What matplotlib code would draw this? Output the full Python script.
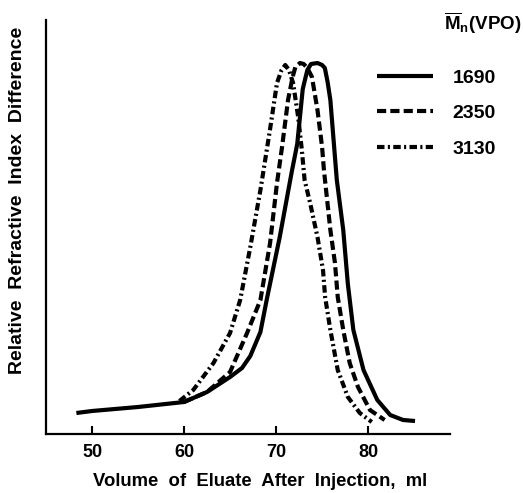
import matplotlib
matplotlib.use("Agg")
import matplotlib.pyplot as plt

plt.rcParams["font.family"] = ["Liberation Sans", "DejaVu Sans"]
plt.rcParams["mathtext.fontset"] = "custom"
plt.rcParams["mathtext.bf"] = "Liberation Sans:bold"
plt.rcParams["mathtext.rm"] = "Liberation Sans"

# --- data (arbitrary detector units) ---
vol_1690 = [48.3, 50, 55, 60, 62.5, 65, 66.3, 67.2, 68.3, 69.0, 70.4, 71.7, 72.3, 72.9, 73.4, 73.8,
            74.5, 75.0, 75.3, 75.6, 75.9, 76.6, 77.3, 77.8, 78.4, 79.5, 81.0, 82.4, 83.8, 85.1]
ri_1690 = [21, 23, 27, 32, 42, 57, 66, 78, 102, 135, 197, 262, 290, 345, 364, 370,
           371, 369, 366, 352, 334, 254, 204, 150, 104, 64, 34, 19, 14, 13]

vol_2350 = [60, 62.5, 65.0, 66.85, 68.3, 69.35, 70.1, 70.65, 71.3, 71.8, 72.1, 72.6, 73.0, 73.4,
            73.9, 74.5, 75.0, 75.2, 75.9, 76.4, 76.7, 77.3, 78.0, 78.9, 80.2, 81.8]
ri_2350 = [32, 42, 62, 101, 134, 191, 251, 287, 334, 357, 367, 371, 370, 366,
           357, 324, 287, 264, 204, 171, 137, 104, 71, 47, 24, 14]

vol_3130 = [59.5, 61.0, 63.2, 65.0, 66.1, 67.2, 68.3, 69.35, 70.1, 70.6, 71.0, 71.4, 71.85, 72.4,
            72.8, 73.1, 73.7, 74.5, 75.1, 75.33, 75.9, 76.7, 77.8, 79.1, 80.4]
ri_3130 = [33, 44, 71, 101, 134, 187, 244, 305, 351, 364, 369, 364, 351, 317,
           284, 254, 231, 197, 164, 137, 104, 64, 37, 21, 12]

labels = ["1690", "2350", "3130"]
xticks = [50, 60, 70, 80]

W, H = 523, 493
fig = plt.figure(figsize=(W / 100, H / 100), dpi=100)
ax = fig.add_axes([46 / W, 1 - 434 / H, 404 / W, 414 / H])

lw = 3.0
l1, = ax.plot(vol_1690, ri_1690, color="black", lw=lw, solid_capstyle="butt",
              solid_joinstyle="round")
l2, = ax.plot(vol_2350, ri_2350, color="black", lw=lw, dashes=(2.2, 1.0),
              dash_capstyle="butt", dash_joinstyle="round")
l3, = ax.plot(vol_3130, ri_3130, color="black", lw=lw, dashes=(1.8, 0.8, 0.5, 0.8),
              dash_capstyle="butt", dash_joinstyle="round")

ax.set_xlim(45, 88.9)
ax.set_ylim(0, 414)
ax.set_xticks(xticks)
ax.set_xticklabels([str(t) for t in xticks], fontsize=13, fontweight="bold")
ax.set_yticks([])
ax.tick_params(axis="x", direction="in", length=6, width=1.5, pad=7)
for s in ["top", "right"]:
    ax.spines[s].set_visible(False)
for s in ["left", "bottom"]:
    ax.spines[s].set_linewidth(1.6)

fig.text(260 / W, 1 - 482 / H, "Volume  of  Eluate  After  Injection,  ml",
         ha="center", va="center", fontsize=13.3, fontweight="bold")
fig.text(18 / W, 1 - 200 / H, "Relative  Refractive  Index  Difference",
         ha="center", va="center", rotation=90, fontsize=14, fontweight="bold")

fig.text(483 / W, 1 - 23 / H, r"$\overline{\mathbf{M}}_{\mathbf{n}}$(VPO)",
         ha="center", va="center", fontsize=13.5, fontweight="bold")

leg = fig.legend([l1, l2, l3], labels, loc="upper left",
                 bbox_to_anchor=(377 / W, 1 - 69 / H), frameon=False,
                 borderpad=0, borderaxespad=0,
                 handlelength=2.9, handletextpad=1.0, labelspacing=0.92,
                 prop={"size": 14, "weight": "bold"})

fig.savefig("out.png", dpi=100)
